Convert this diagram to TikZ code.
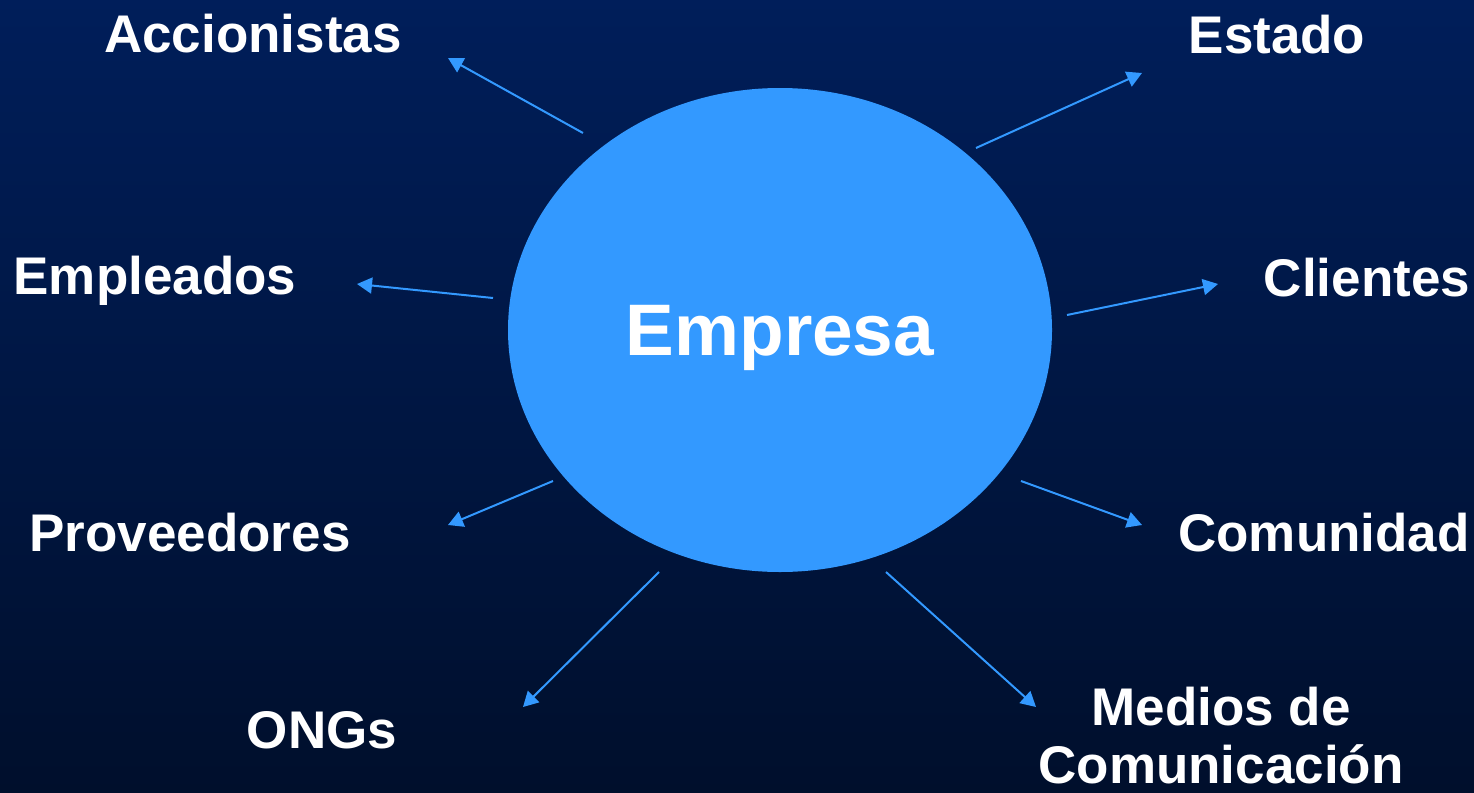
\documentclass[tikz,border=0pt]{standalone}
\usepackage{xcolor}
\usepackage{fontspec}
\setmainfont{Liberation Sans}
\usepackage{tikz}
\usetikzlibrary{arrows.meta}
\usetikzlibrary{shapes.geometric}
\definecolor{sky}{HTML}{3399FF}
\definecolor{navytop}{HTML}{001E5A}
\definecolor{navybot}{HTML}{000F2C}

\begin{document}
\begin{tikzpicture}[x=1pt,y=-1pt]
      \tikzstyle{party}=[text=white,font=\fontsize{53}{58}\selectfont\bfseries,align=center,inner sep=0pt]
      \tikzstyle{link}=[draw=sky,line width=2pt,-{Triangle[length=15pt,width=16pt]}]
      \shade[top color=navytop,bottom color=navybot] (0,0) rectangle (1474,792);
      \useasboundingbox (0,0) rectangle (1474,792);
      \node[ellipse,fill=sky,inner sep=0pt,minimum width=544pt,minimum height=484pt] (emp) at (780, 330) {};
      \node[party,font=\fontsize{73}{80}\selectfont\bfseries] (core) at (780, 338) {Empresa};
      \node[party] (acc) at (253, 34) {Accionistas};
      \node[party] (est) at (1277, 35) {Estado};
      \node[party] (empl) at (155, 281) {Empleados};
      \node[party] (cli) at (1367, 278) {Clientes};
      \node[party] (prov) at (190, 533) {Proveedores};
      \node[party] (com) at (1324, 533) {Comunidad};
      \node[party] (ong) at (322, 730) {ONGs};
      \node[party] (med) at (1221, 736) {Medios de\\Comunicación};
      \coordinate (acc0) at (583, 133);  \coordinate (acc1) at (448, 58);
      \coordinate (est0) at (976, 148);  \coordinate (est1) at (1142, 73);
      \coordinate (empl0) at (493, 298); \coordinate (empl1) at (357, 284);
      \coordinate (cli0) at (1067, 315); \coordinate (cli1) at (1218, 284);
      \coordinate (prov0) at (553, 481); \coordinate (prov1) at (448, 525);
      \coordinate (com0) at (1021, 481); \coordinate (com1) at (1142, 525);
      \coordinate (ong0) at (659, 572);  \coordinate (ong1) at (523, 707);
      \coordinate (med0) at (886, 572);  \coordinate (med1) at (1036, 707);
      \draw[link] (acc0) -- (acc1);
      \draw[link] (est0) -- (est1);
      \draw[link] (empl0) -- (empl1);
      \draw[link] (cli0) -- (cli1);
      \draw[link] (prov0) -- (prov1);
      \draw[link] (com0) -- (com1);
      \draw[link] (ong0) -- (ong1);
      \draw[link] (med0) -- (med1);
    \end{tikzpicture}
\end{document}
